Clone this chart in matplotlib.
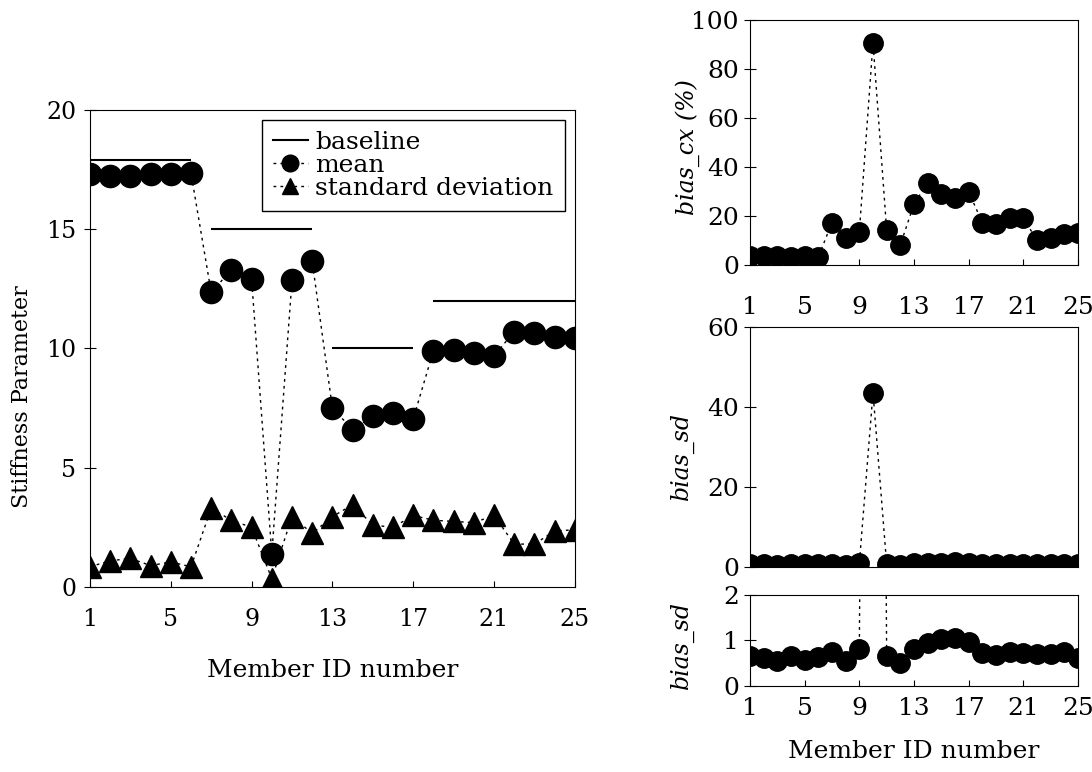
import matplotlib.pyplot as plt
from matplotlib.lines import Line2D

plt.rcParams['font.family'] = ['DejaVu Serif']

# member ids and values
members = list(range(1, 26))
xticks = [1, 5, 9, 13, 17, 21, 25]

base_start = [1, 7, 13, 18]
base_end = [6, 12, 17, 25]
base_value = [17.9, 15.0, 10.0, 12.0]

stiff_mean = [17.3, 17.25, 17.25, 17.3, 17.3, 17.35, 12.35, 13.3, 12.9, 1.4,
              12.85, 13.65, 7.5, 6.6, 7.15, 7.3, 7.05, 9.9, 9.95, 9.8,
              9.7, 10.7, 10.65, 10.5, 10.45]
stiff_sd = [0.85, 1.1, 1.2, 0.9, 1.05, 0.85, 3.3, 2.8, 2.5, 0.35,
            2.95, 2.25, 2.95, 3.45, 2.6, 2.5, 3.0, 2.8, 2.75, 2.7,
            3.0, 1.8, 1.8, 2.35, 2.4]

bias_cx = [3.5, 3.8, 3.6, 3.4, 3.6, 3.3, 17.3, 10.9, 13.6, 90.7,
           14.3, 8.2, 24.9, 33.6, 29.0, 27.2, 29.9, 17.3, 16.7, 19.0,
           19.0, 10.2, 10.9, 12.5, 12.9]
bias_sd = [0.65, 0.62, 0.54, 0.65, 0.57, 0.63, 0.75, 0.55, 0.82, 43.5,
           0.65, 0.51, 0.82, 0.95, 1.04, 1.06, 0.97, 0.72, 0.68, 0.75,
           0.72, 0.71, 0.71, 0.75, 0.62]

dash = (0, (2, 3))
fig = plt.figure(figsize=(10.92, 7.72), dpi=100)

# ---- left panel: stiffness parameter
ax = fig.add_axes([0.0824, 0.2396, 0.444, 0.618])
ax.hlines(base_value, base_start, base_end, color='black', lw=1.5)
ax.plot(members, stiff_mean, color='black', ls=dash, lw=1, marker='o', ms=16)
ax.plot(members, stiff_sd, color='black', ls=dash, lw=1, marker='^', ms=16)
ax.set_xlim(1, 25)
ax.set_ylim(0, 20)
ax.set_xticks(xticks)
ax.set_yticks([0, 5, 10, 15, 20])
ax.tick_params(axis='x', direction='in', length=4, labelsize=17, pad=15)
ax.tick_params(axis='y', direction='inout', length=8, labelsize=17, pad=6)
ax.set_xlabel('Member ID number', fontsize=18)
ax.xaxis.set_label_coords(0.5, -0.15)
ax.set_ylabel('Stiffness Parameter', fontsize=16)
ax.yaxis.set_label_coords(-0.117, 0.4)

handles = [
    Line2D([], [], color='black', lw=1.5),
    Line2D([], [], color='black', ls=dash, lw=1, marker='o', ms=12),
    Line2D([], [], color='black', ls=dash, lw=1, marker='^', ms=12),
]
ax.legend(handles, ['baseline', 'mean', 'standard deviation'], loc='upper right',
          fontsize=18, frameon=True, fancybox=False, edgecolor='black',
          framealpha=1, handlelength=1.4, handletextpad=0.3, labelspacing=0.0,
          borderpad=0.45, borderaxespad=0.4)

# ---- right panels
def small_panel(rect, data, ylim, yticks, label, show_x, label_x, label_y=0.5,
                xpad=8):
    a = fig.add_axes(rect)
    a.plot(members, data, color='black', ls=dash, lw=1, marker='o', ms=14)
    a.set_xlim(1, 25)
    a.set_ylim(*ylim)
    a.set_xticks(xticks)
    a.set_yticks(yticks)
    a.tick_params(axis='x', direction='in', length=4, labelsize=18, pad=xpad)
    a.tick_params(axis='y', direction='inout', length=8, labelsize=18, pad=4)
    if not show_x:
        a.tick_params(axis='x', labelbottom=False, length=0)
    a.set_ylabel(label, fontsize=17, fontstyle='italic')
    a.yaxis.set_label_coords(label_x, label_y)
    return a

small_panel([0.6868, 0.6567, 0.3004, 0.3174], bias_cx, (0, 100),
            [0, 20, 40, 60, 80, 100], 'bias_cx (%)', True, -0.152,
            label_y=0.48, xpad=22)
small_panel([0.6868, 0.2659, 0.3004, 0.3109], bias_sd, (0, 60),
            [0, 20, 40, 60], 'bias_sd', False, -0.172, label_y=0.46)
ab = small_panel([0.6868, 0.1114, 0.3004, 0.1179], bias_sd, (0, 2),
                 [0, 1, 2], 'bias_sd', True, -0.172, label_y=0.45)
ab.set_xlabel('Member ID number', fontsize=18, labelpad=14)

fig.savefig('out.png', dpi=100)
